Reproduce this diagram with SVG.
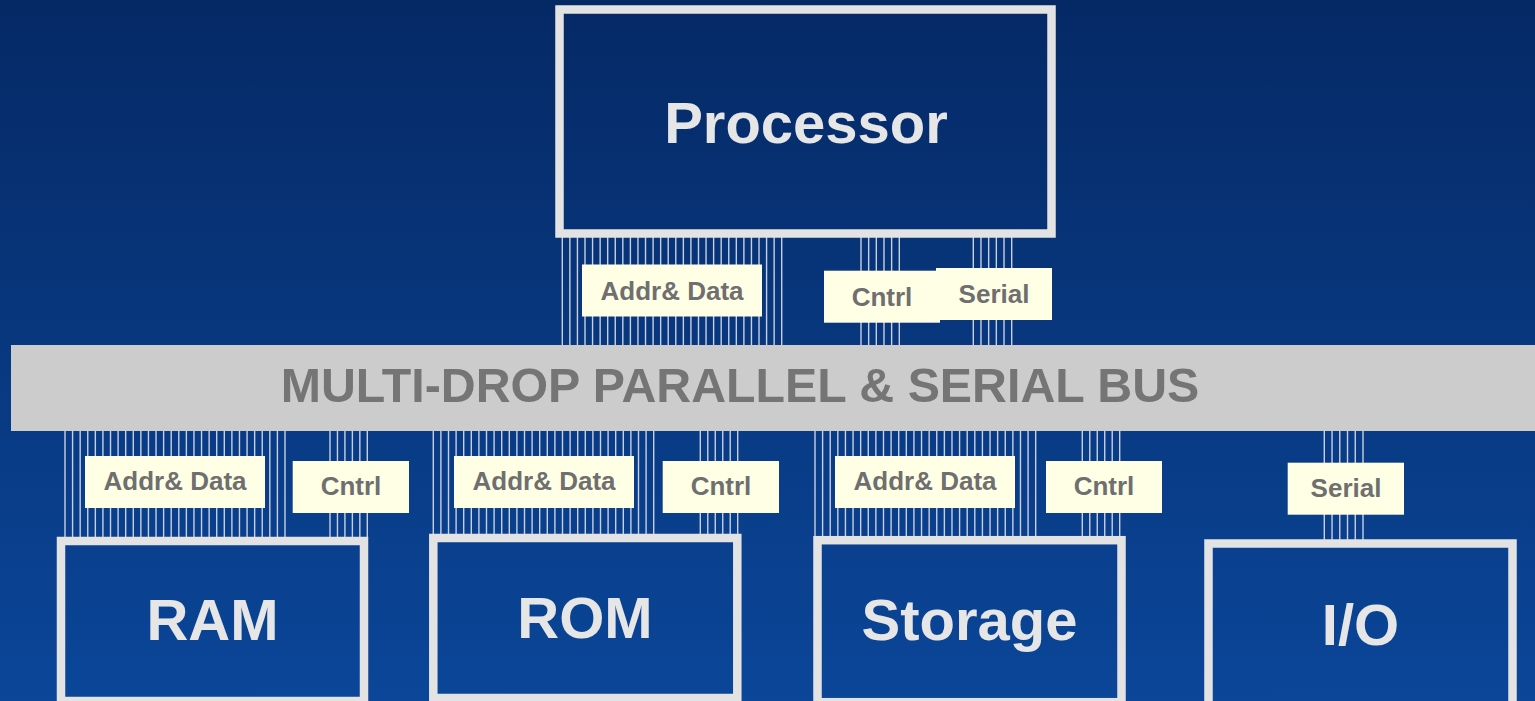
<svg xmlns="http://www.w3.org/2000/svg" width="1535" height="701" viewBox="0 0 1535 701">
<defs>
<linearGradient id="bg" x1="0" y1="0" x2="0" y2="1">
<stop offset="0" stop-color="#052965"/>
<stop offset="1" stop-color="#0b4699"/>
</linearGradient>
<style>
.box{fill:none;stroke:#e3e3e3;stroke-width:8.5}
.big{font-family:"Liberation Sans",Arial,sans-serif;font-weight:bold;font-size:58px;fill:#e6e6e6;text-anchor:middle}
.lbl{fill:#ffffe6}
.lt{font-family:"Liberation Sans",Arial,sans-serif;font-weight:bold;font-size:26px;fill:#6f6f6f;text-anchor:middle}
.wire{fill:none;stroke:#c8cfe2;stroke-width:1.4}
.bus{fill:#cccccc}
.bt{font-family:"Liberation Sans",Arial,sans-serif;font-weight:bold;font-size:48.3px;fill:#757575;text-anchor:middle}
</style>
</defs>
<rect x="0" y="0" width="1535" height="701" fill="url(#bg)"/>
<g id="connectors">
<path class="wire" d="M562.3,236v110 m7.566,-110v110 m7.566,-110v110 m7.566,-110v110 m7.566,-110v110 m7.566,-110v110 m7.566,-110v110 m7.566,-110v110 m7.566,-110v110 m7.566,-110v110 m7.566,-110v110 m7.566,-110v110 m7.566,-110v110 m7.566,-110v110 m7.566,-110v110 m7.566,-110v110 m7.566,-110v110 m7.566,-110v110 m7.566,-110v110 m7.566,-110v110 m7.566,-110v110 m7.566,-110v110 m7.566,-110v110 m7.566,-110v110 m7.566,-110v110 m7.566,-110v110 m7.566,-110v110 m7.566,-110v110 m7.566,-110v110 m7.566,-110v110"/>
<path class="wire" d="M861,236v110 m7.66,-110v110 m7.66,-110v110 m7.66,-110v110 m7.66,-110v110 m7.66,-110v110"/>
<path class="wire" d="M973.3,236v110 m7.68,-110v110 m7.68,-110v110 m7.68,-110v110 m7.68,-110v110 m7.68,-110v110"/>
<path class="wire" d="M65,428v112 m7.586,-112v112 m7.586,-112v112 m7.586,-112v112 m7.586,-112v112 m7.586,-112v112 m7.586,-112v112 m7.586,-112v112 m7.586,-112v112 m7.586,-112v112 m7.586,-112v112 m7.586,-112v112 m7.586,-112v112 m7.586,-112v112 m7.586,-112v112 m7.586,-112v112 m7.586,-112v112 m7.586,-112v112 m7.586,-112v112 m7.586,-112v112 m7.586,-112v112 m7.586,-112v112 m7.586,-112v112 m7.586,-112v112 m7.586,-112v112 m7.586,-112v112 m7.586,-112v112 m7.586,-112v112 m7.586,-112v112 m7.586,-112v112"/>
<path class="wire" d="M330,428v112 m7.46,-112v112 m7.46,-112v112 m7.46,-112v112 m7.46,-112v112 m7.46,-112v112"/>
<path class="wire" d="M433.3,428v109 m7.6,-109v109 m7.6,-109v109 m7.6,-109v109 m7.6,-109v109 m7.6,-109v109 m7.6,-109v109 m7.6,-109v109 m7.6,-109v109 m7.6,-109v109 m7.6,-109v109 m7.6,-109v109 m7.6,-109v109 m7.6,-109v109 m7.6,-109v109 m7.6,-109v109 m7.6,-109v109 m7.6,-109v109 m7.6,-109v109 m7.6,-109v109 m7.6,-109v109 m7.6,-109v109 m7.6,-109v109 m7.6,-109v109 m7.6,-109v109 m7.6,-109v109 m7.6,-109v109 m7.6,-109v109 m7.6,-109v109 m7.6,-109v109"/>
<path class="wire" d="M700.3,428v109 m7.48,-109v109 m7.48,-109v109 m7.48,-109v109 m7.48,-109v109 m7.48,-109v109"/>
<path class="wire" d="M815,428v111 m7.61,-111v111 m7.61,-111v111 m7.61,-111v111 m7.61,-111v111 m7.61,-111v111 m7.61,-111v111 m7.61,-111v111 m7.61,-111v111 m7.61,-111v111 m7.61,-111v111 m7.61,-111v111 m7.61,-111v111 m7.61,-111v111 m7.61,-111v111 m7.61,-111v111 m7.61,-111v111 m7.61,-111v111 m7.61,-111v111 m7.61,-111v111 m7.61,-111v111 m7.61,-111v111 m7.61,-111v111 m7.61,-111v111 m7.61,-111v111 m7.61,-111v111 m7.61,-111v111 m7.61,-111v111 m7.61,-111v111 m7.61,-111v111"/>
<path class="wire" d="M1082.3,428v111 m7.48,-111v111 m7.48,-111v111 m7.48,-111v111 m7.48,-111v111 m7.48,-111v111"/>
<path class="wire" d="M1324.3,428v114 m7.74,-114v114 m7.74,-114v114 m7.74,-114v114 m7.74,-114v114 m7.74,-114v114"/>
</g>
<g id="bus">
<rect class="bus" x="11" y="345" width="1524" height="86"/>
<text class="bt" x="740" y="402">MULTI-DROP PARALLEL &amp; SERIAL BUS</text>
</g>
<g id="processor">
<rect class="box" x="559.5" y="9.5" width="492" height="224"/>
<text class="big" x="806" y="143">Processor</text>
</g>
<g id="ram">
<rect class="box" x="61" y="541" width="303" height="160"/>
<text class="big" x="212.5" y="640">RAM</text>
</g>
<g id="rom">
<rect class="box" x="433.3" y="538" width="304" height="160"/>
<text class="big" x="585" y="638">ROM</text>
</g>
<g id="storage">
<rect class="box" x="817.5" y="540.2" width="304" height="162"/>
<text class="big" x="969.5" y="640">Storage</text>
</g>
<g id="io">
<rect class="box" x="1208.5" y="543.5" width="304" height="162"/>
<text class="big" x="1360.5" y="645">I/O</text>
</g>
<g id="labels">
<rect class="lbl" x="582" y="264.5" width="180" height="52"/>
<text class="lt" x="672" y="299.5">Addr&amp; Data</text>
<rect class="lbl" x="824" y="270.7" width="116" height="52"/>
<text class="lt" x="882" y="305.5">Cntrl</text>
<rect class="lbl" x="936" y="268" width="116" height="52"/>
<text class="lt" x="994" y="302.5">Serial</text>
<rect class="lbl" x="85" y="456" width="180" height="52"/>
<text class="lt" x="175" y="490">Addr&amp; Data</text>
<rect class="lbl" x="292.7" y="461" width="116.3" height="52"/>
<text class="lt" x="351" y="495">Cntrl</text>
<rect class="lbl" x="454" y="456" width="180" height="52"/>
<text class="lt" x="544" y="490">Addr&amp; Data</text>
<rect class="lbl" x="662.7" y="461" width="116.3" height="52"/>
<text class="lt" x="721" y="495">Cntrl</text>
<rect class="lbl" x="835" y="456" width="180" height="52"/>
<text class="lt" x="925" y="490">Addr&amp; Data</text>
<rect class="lbl" x="1046" y="461" width="116" height="52"/>
<text class="lt" x="1104" y="495">Cntrl</text>
<rect class="lbl" x="1287.7" y="462.7" width="116.3" height="52"/>
<text class="lt" x="1346" y="497">Serial</text>
</g>
</svg>
